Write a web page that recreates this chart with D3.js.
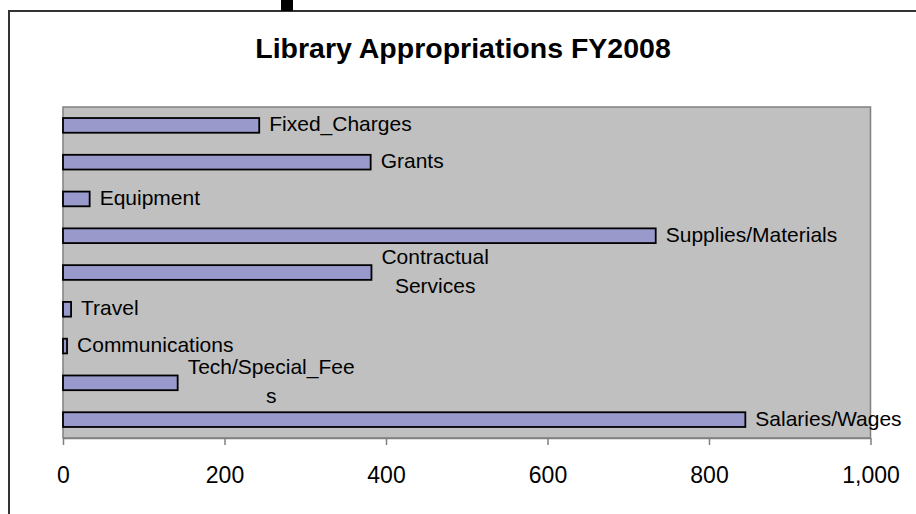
<!DOCTYPE html>
<html>
<head>
<meta charset="utf-8">
<script src="https://cdnjs.cloudflare.com/ajax/libs/d3/7.8.5/d3.min.js"></script>
<style>
  body { margin: 0; background: #fff; overflow: hidden; }
  text { font-family: Arial, "Liberation Sans", sans-serif; }
</style>
</head>
<body>
<div id="chart"></div>
<script>
  // data, first category sits at the bottom like in Excel
  var categories = ["Salaries/Wages", "Tech/Special_Fees", "Communications", "Travel",
    "Contractual Services", "Supplies/Materials", "Equipment", "Grants", "Fixed_Charges"];
  var appropriations = [845, 142, 5, 10, 382, 734, 33, 381, 243];
  // label wrapping as it shows in the original
  var labelLines = [["Salaries/Wages"], ["Tech/Special_Fee", "s"], ["Communications"], ["Travel"],
    ["Contractual", "Services"], ["Supplies/Materials"], ["Equipment"], ["Grants"], ["Fixed_Charges"]];
  var xTicks = [0, 200, 400, 600, 800, 1000];
  var chartTitle = "Library Appropriations FY2008";

  var data = categories.map(function(c, i) {
    return { name: c, value: appropriations[i], lines: labelLines[i] };
  });

  var W = 916, H = 514;
  var margin = {top: 107, left: 63},
    width = 807.5,
    height = 331;

  var svg = d3.select("#chart").append("svg")
    .attr("width", W)
    .attr("height", H);

  // chart area border + the little black block above it
  svg.append("rect")
    .attr("x", 9).attr("y", 11)
    .attr("width", 960).attr("height", 600)
    .attr("fill", "none")
    .attr("stroke", "#333")
    .attr("stroke-width", 2);
  svg.append("rect")
    .attr("x", 281).attr("y", 0)
    .attr("width", 12).attr("height", 11)
    .attr("fill", "#000");

  svg.append("text")
    .attr("x", 463)
    .attr("y", 58)
    .attr("text-anchor", "middle")
    .style("font-size", "28.5px")
    .style("font-weight", "bold")
    .text(chartTitle);

  var g = svg.append("g")
    .attr("transform", "translate(" + margin.left + "," + margin.top + ")");

  var x = d3.scaleLinear().domain([0, 1000]).range([0, width]);
  var y = d3.scaleBand()
    .domain(categories.slice().reverse())
    .range([0, height])
    .paddingInner(0.6)
    .paddingOuter(0.3);

  // plot area
  g.append("rect")
    .attr("width", width)
    .attr("height", height)
    .attr("fill", "#C0C0C0")
    .attr("stroke", "#808080")
    .attr("stroke-width", 1.5);

  // x axis
  var xAxis = d3.axisBottom(x)
    .tickValues(xTicks)
    .tickFormat(d3.format(","))
    .tickSizeInner(7)
    .tickSizeOuter(0)
    .tickPadding(22);

  var ax = g.append("g")
    .attr("transform", "translate(0," + height + ")")
    .call(xAxis);
  ax.select(".domain").attr("stroke", "#808080").attr("stroke-width", 1.5);
  ax.selectAll(".tick line").attr("stroke", "#808080").attr("stroke-width", 1.5);
  ax.selectAll(".tick text")
    .attr("fill", "#000")
    .style("font-size", "23px")
    .style("font-family", "Arial, 'Liberation Sans', sans-serif");

  // bars
  g.selectAll("rect.bar")
    .data(data)
    .enter().append("rect")
      .attr("class", "bar")
      .attr("x", x(0))
      .attr("y", function(d) { return y(d.name); })
      .attr("width", function(d) { return x(d.value) - x(0); })
      .attr("height", y.bandwidth())
      .attr("fill", "#9999CC")
      .attr("stroke", "#000")
      .attr("stroke-width", 1.8);

  // data labels (category names)
  var labels = g.selectAll("text.lbl")
    .data(data)
    .enter().append("text")
      .attr("class", "lbl")
      .style("font-size", "21px")
      .attr("fill", "#000");

  labels.each(function(d) {
    var t = d3.select(this),
      cy = y(d.name) + y.bandwidth() / 2,
      x0 = x(d.value) + 10;
    if (d.lines.length === 1) {
      t.attr("x", x0).attr("y", cy + 6).text(d.lines[0]);
      return;
    }
    var spans = t.selectAll("tspan")
      .data(d.lines)
      .enter().append("tspan")
        .attr("y", function(l, i) { return cy - 9 + i * 29; })
        .text(function(l) { return l; });
    var maxW = d3.max(spans.nodes(), function(n) { return n.getComputedTextLength(); });
    t.attr("text-anchor", "middle");
    spans.attr("x", x0 + maxW / 2);
  });
</script>
</body>
</html>
